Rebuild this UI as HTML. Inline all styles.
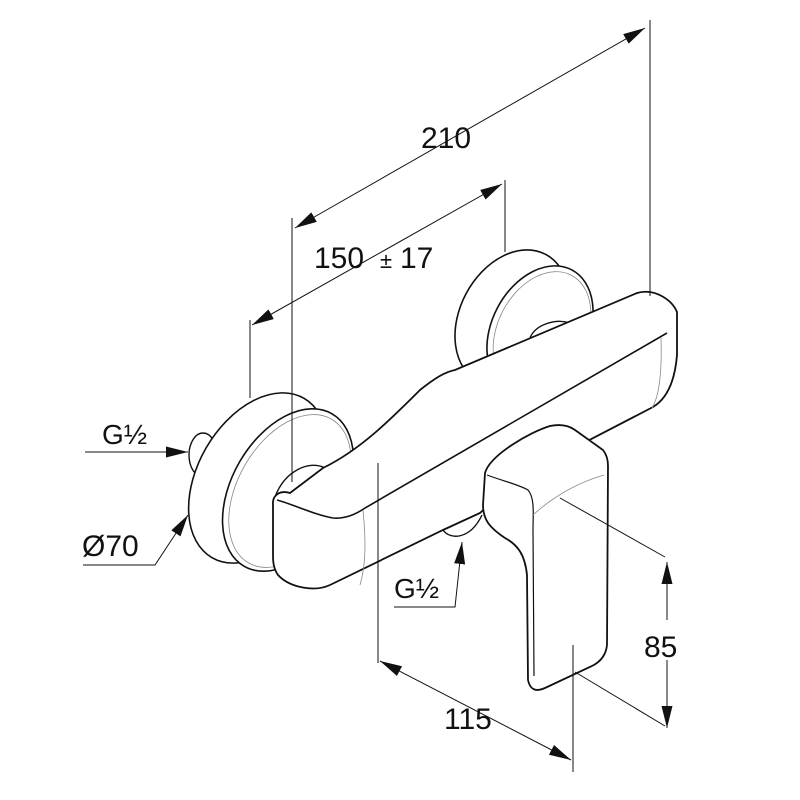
<!DOCTYPE html>
<html><head><meta charset="utf-8"><style>html,body{margin:0;background:#fff}svg{display:block}text{font-family:"Liberation Sans",sans-serif;fill:#111}</style></head><body>
<svg width="800" height="800" viewBox="0 0 800 800" xmlns="http://www.w3.org/2000/svg">
<defs><marker id="a" viewBox="0 0 20 10" refX="20" refY="5" markerWidth="22" markerHeight="11" markerUnits="userSpaceOnUse" orient="auto-start-reverse"><path d="M0,0L20,5L0,10z" fill="#111"/></marker></defs>
<g stroke="#111" stroke-width="1.2" fill="none">
<ellipse cx="512" cy="318" rx="52" ry="72" transform="rotate(28 512 318)" fill="#fff" stroke-width="1.6"/>
<ellipse cx="540" cy="330" rx="48" ry="68" transform="rotate(28 540 330)" fill="#fff" stroke-width="1.6"/>
<ellipse cx="542" cy="331" rx="44" ry="63" transform="rotate(28 542 331)" stroke="#888" stroke-width="0.8"/>
<path d="M530,338 C535,325 555,318 570,323" stroke-width="1.4"/>
<ellipse cx="203" cy="455" rx="14" ry="22" fill="#fff" stroke-width="1.4"/>
<ellipse cx="258" cy="478" rx="60" ry="92" transform="rotate(30 258 478)" fill="#fff" stroke-width="1.6"/>
<ellipse cx="288" cy="490" rx="56" ry="88" transform="rotate(30 288 490)" fill="#fff" stroke-width="1.6"/>
<ellipse cx="290" cy="491" rx="52" ry="83" transform="rotate(30 290 491)" stroke="#888" stroke-width="0.8"/>
<path d="M275,497 C285,470 310,460 325,468" stroke-width="1.4"/>
<path d="M273,505 C272,495 280,490 290,493 L323,468 C360,450 390,420 420,390 C435,378 445,372 455,370 L637,293 C655,288 672,300 677,312 L677,355 C675,380 668,398 653,407 L520,476 L480,513 L443,530 L330,585 C315,592 290,588 278,575 C273,568 273,560 273,555 Z" fill="#fff" stroke-width="1.8"/>
<path d="M277,500 C295,505 315,515 333,518 C345,519 355,515 365,508 L667,333" stroke-width="1.6"/>
<path d="M363,510 C366,540 366,565 360,585" stroke="#888" stroke-width="0.8"/>
<path d="M661,338 C662,370 660,395 652,408" stroke="#888" stroke-width="0.8"/>
<path d="M443,530 C450,540 470,540 482,515" stroke-width="1.4"/>
<path d="M485,473 C490,455 530,432 550,426 C560,424 568,425 575,430 L603,450 C607,455 608,460 608,466 L607,645 C606,655 600,662 592,666 L545,688 C536,692 530,690 528,680 L527,575 C525,555 518,545 505,538 C490,528 483,520 483,505 Z" fill="#fff" stroke-width="1.8"/>
<path d="M487,475 C500,480 520,485 528,490 C535,498 533,515 533,530 L534,676" stroke-width="1.2"/>
<path d="M533,515 C555,495 580,482 604,475" stroke="#888" stroke-width="0.8"/>
</g>
<g stroke="#111" stroke-width="1" fill="none">
<line x1="292" y1="218" x2="292" y2="482"/>
<line x1="650" y1="20" x2="650" y2="296"/>
<line x1="295" y1="228" x2="645" y2="28" marker-start="url(#a)" marker-end="url(#a)"/>
<line x1="250" y1="320" x2="250" y2="398"/>
<line x1="505" y1="180" x2="505" y2="252"/>
<line x1="252" y1="325" x2="502" y2="184" marker-start="url(#a)" marker-end="url(#a)"/>
<line x1="378" y1="463" x2="378" y2="663"/>
<line x1="573" y1="645" x2="573" y2="772"/>
<line x1="380" y1="661" x2="571" y2="760" marker-start="url(#a)" marker-end="url(#a)"/>
<line x1="560" y1="498" x2="665" y2="557"/>
<line x1="575" y1="672" x2="665" y2="726"/>
<line x1="667" y1="562" x2="667" y2="728" marker-start="url(#a)" marker-end="url(#a)"/>
<line x1="85" y1="452" x2="188" y2="452" marker-end="url(#a)"/>
<polyline points="83,565 155,565 188,515" marker-end="url(#a)"/>
<polyline points="394,607 455,607 462,542" marker-end="url(#a)"/>
</g>
<rect x="642" y="620" width="50" height="40" fill="#fff"/>
<g font-size="30">
<text x="421" y="148">210</text>
<text x="314" y="268">150</text><text x="380" y="268" font-size="22">±</text><text x="400" y="268">17</text>
<text x="644" y="657">85</text>
<text x="444" y="729">115</text>
<text x="102" y="444" font-size="28">G½</text>
<text x="82" y="556">Ø70</text>
<text x="394" y="598" font-size="28">G½</text>
</g>
</svg>
</body></html>
